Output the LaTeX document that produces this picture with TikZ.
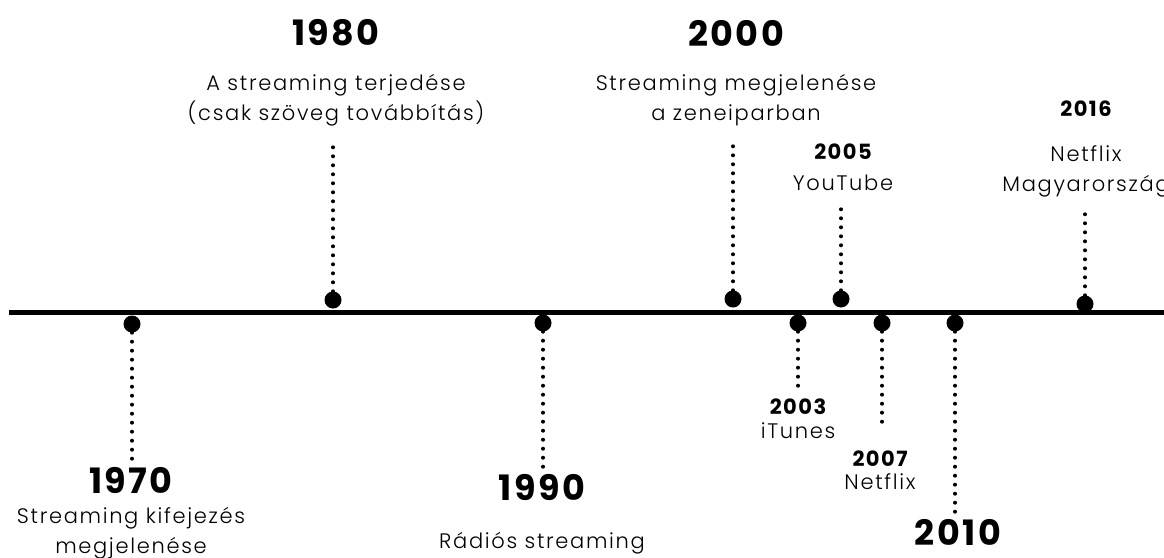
\documentclass[tikz,border=0pt]{standalone}
\usepackage{fontspec}
\setmainfont{Poppins}
\newfontfamily\yearfont[LetterSpace=7]{Poppins}
\newfontfamily\thinfont[LetterSpace=8]{Poppins Light}
\usetikzlibrary{positioning}

\begin{document}
\begin{tikzpicture}[
  x=1pt, y=-1pt,
  dot/.style={circle, fill=black, inner sep=0pt, minimum size=17pt},
  bigyear/.style={font=\fontsize{35}{35}\yearfont\bfseries, inner sep=0pt},
  smallyear/.style={font=\fontsize{21}{21}\yearfont\bfseries, inner sep=0pt},
  desc/.style={font=\fontsize{21}{30}\thinfont, align=center, inner sep=0pt},
  axis/.style={line width=5.5pt},
  stem/.style={line width=4pt, dash pattern=on 0pt off 9pt, line cap=round}
]
\useasboundingbox (0,0) rectangle (1164,557);
\coordinate (tl start) at (9,312.5);
\coordinate (tl end) at (1175,312.5);
\draw[axis] (tl start) -- (tl end);

% dots on the line
\node[dot] (d1970) at (132,324) {};
\node[dot] (d1980) at (333,300) {};
\node[dot] (d1990) at (543,323) {};
\node[dot] (d2000) at (733,299) {};
\node[dot] (d2003) at (798,323) {};
\node[dot] (d2005) at (841,299) {};
\node[dot] (d2007) at (882,323) {};
\node[dot] (d2010) at (955,323) {};
\node[dot] (d2016) at (1085,304) {};

% stem ends
\coordinate (s1970) at (132,462);
\coordinate (s1980) at (333,140);
\coordinate (s1990) at (543,468);
\coordinate (s2000) at (733,140);
\coordinate (s2003) at (798,388);
\coordinate (s2005) at (841,205);
\coordinate (s2007) at (882,430);
\coordinate (s2010) at (955,512);
\coordinate (s2016) at (1085,210);

% years and texts
\node[bigyear] (y1980) at (336,33) {1980};
\node[desc, below=28pt of y1980] (t1980) {A streaming terjedése\\(csak szöveg továbbítás)};
\node[bigyear] (y2000) at (736,33) {2000};
\node[desc, below=28pt of y2000] (t2000) {Streaming megjelenése\\a zeneiparban};
\node[smallyear] (y2005) at (843,151.5) {2005};
\node[desc, below=15pt of y2005] (t2005) {YouTube};
\node[smallyear] (y2016) at (1086,108.5) {2016};
\node[desc, below=29pt of y2016] (t2016) {Netflix\\Magyarország};
\node[bigyear] (y1970) at (131,480.5) {1970};
\node[desc, below=13pt of y1970] (t1970) {Streaming kifejezés\\megjelenése};
\node[bigyear] (y1990) at (542,487.5) {1990};
\node[desc, below=31pt of y1990] (t1990) {Rádiós streaming};
\node[smallyear] (y2003) at (798,406.5) {2003};
\node[desc, below=8pt of y2003] (t2003) {iTunes};
\node[smallyear] (y2007) at (880,458.5) {2007};
\node[desc, below=7pt of y2007] (t2007) {Netflix};
\node[bigyear] (y2010) at (958,532) {2010};

\foreach \yr in {1970,1980,1990,2000,2003,2005,2007,2010,2016}
  \draw[stem] (d\yr) -- (s\yr);
\end{tikzpicture}
\end{document}
